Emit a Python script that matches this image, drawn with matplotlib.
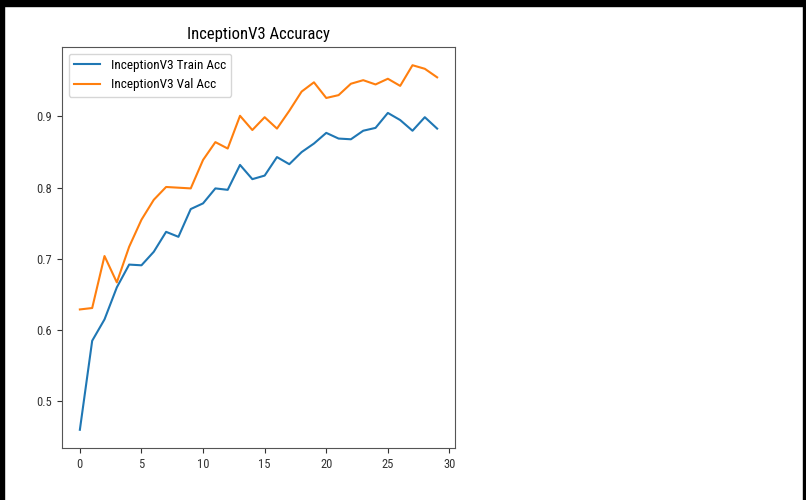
import matplotlib
matplotlib.use("Agg")
import matplotlib.pyplot as plt
from matplotlib.patches import Rectangle

plt.rcParams['font.family'] = ['Roboto Condensed', 'DejaVu Sans']

# accuracy per epoch
epochs = list(range(30))
train_acc = [0.460, 0.585, 0.615, 0.660, 0.692, 0.691, 0.710, 0.738, 0.731, 0.770,
             0.778, 0.799, 0.797, 0.832, 0.812, 0.817, 0.843, 0.833, 0.850, 0.862,
             0.877, 0.869, 0.868, 0.880, 0.884, 0.905, 0.895, 0.880, 0.899, 0.883]
val_acc = [0.629, 0.631, 0.704, 0.667, 0.717, 0.755, 0.783, 0.801, 0.800, 0.799,
           0.839, 0.864, 0.855, 0.901, 0.881, 0.899, 0.883, 0.908, 0.935, 0.948,
           0.926, 0.930, 0.946, 0.951, 0.945, 0.953, 0.943, 0.972, 0.967, 0.955]
series_labels = ['InceptionV3 Train Acc', 'InceptionV3 Val Acc']
title = 'InceptionV3 Accuracy'

fig = plt.figure(figsize=(8.06, 5.0), dpi=100)
ax = fig.add_axes([62/806, 1 - 448/500, (455 - 62)/806, (448 - 47)/500])

ax.plot(epochs, train_acc, color='tab:blue', label=series_labels[0])
ax.plot(epochs, val_acc, color='tab:orange', label=series_labels[1])
ax.set_title(title, fontsize=12)
ax.set_xticks([0, 5, 10, 15, 20, 25, 30])
ax.set_yticks([0.5, 0.6, 0.7, 0.8, 0.9])
ax.tick_params(labelsize=9, colors='#333333')
for s in ax.spines.values():
    s.set_color('#555555')
ax.legend(loc='upper left', fontsize=9.5)

# black frame around the screenshot
fig.patches.append(Rectangle((0, 1 - 6/500), 1, 6/500, transform=fig.transFigure, color='black'))
fig.patches.append(Rectangle((0, 0), 4/806, 1, transform=fig.transFigure, color='black'))
fig.patches.append(Rectangle((1 - 3/806, 0), 3/806, 1, transform=fig.transFigure, color='black'))

fig.savefig('out.png', dpi=100)
